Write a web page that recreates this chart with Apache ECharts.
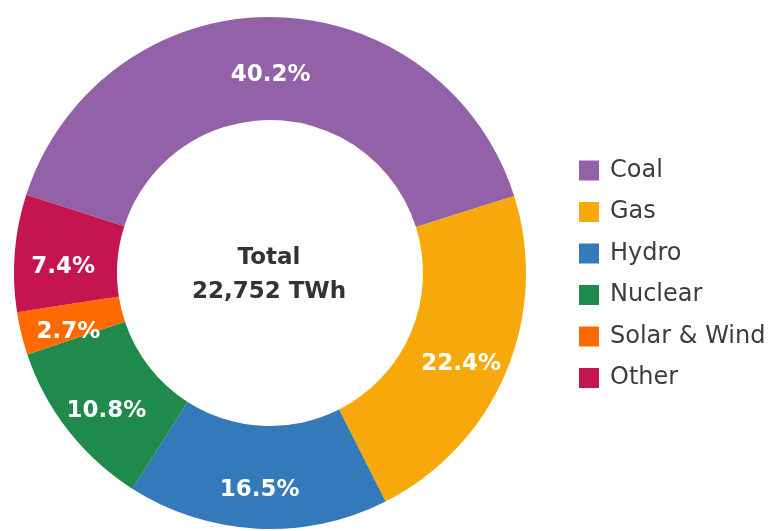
<!DOCTYPE html>
<html>
<head>
<meta charset="utf-8">
<script src="https://cdn.jsdelivr.net/npm/echarts@6/dist/echarts.min.js"></script>
<style>
  html, body { margin: 0; padding: 0; background: #ffffff; }
  #chart { width: 781px; height: 531px; }
</style>
</head>
<body>
<div id="chart"></div>
<script>
// Share of electricity generation by source (percent of total)
const sources = ['Coal', 'Gas', 'Hydro', 'Nuclear', 'Solar & Wind', 'Other'];
const shares = [40.2, 22.4, 16.5, 10.8, 2.7, 7.4];
const sourceColors = ['#9361A8', '#F7A90B', '#347ABA', '#1F8A4C', '#FF6A00', '#C4154F'];
const totalLabel = 'Total';
const totalValue = '22,752 TWh';

const FONT = '"DejaVu Sans", "Liberation Sans", Arial, sans-serif';
const CX = 270, CY = 273;

const chart = echarts.init(document.getElementById('chart'), null, { renderer: 'canvas' });

chart.setOption({
  animation: false,
  backgroundColor: '#ffffff',
  color: sourceColors,
  legend: {
    orient: 'vertical',
    left: 579,
    top: 158,
    padding: 0,
    itemWidth: 20,
    itemHeight: 20,
    itemGap: 16.5,
    icon: 'rect',
    selectedMode: false,
    data: sources,
    textStyle: {
      fontFamily: FONT,
      fontSize: 24,
      lineHeight: 25,
      color: '#3d3d3d',
      padding: [0, 0, 0, 6]
    }
  },
  graphic: [{
    type: 'text',
    x: CX - 1,
    y: CY + 2,
    style: {
      text: totalLabel + '\n' + totalValue,
      textAlign: 'center',
      textVerticalAlign: 'middle',
      fontFamily: FONT,
      fontWeight: 'bold',
      fontSize: 23,
      lineHeight: 34,
      fill: '#333333'
    }
  }],
  series: [{
    type: 'pie',
    center: [CX, CY],
    radius: [153, 256],
    startAngle: 162.2,
    clockwise: true,
    avoidLabelOverlap: false,
    emphasis: { disabled: true },
    label: {
      show: true,
      position: 'inside',
      formatter: '{c}%',
      offset: [0, 10],
      fontFamily: FONT,
      fontWeight: 'bold',
      fontSize: 23,
      color: '#ffffff'
    },
    labelLine: { show: false },
    itemStyle: { borderWidth: 0 },
    data: sources.map((name, i) => ({ name: name, value: shares[i] }))
  }]
});
</script>
</body>
</html>
